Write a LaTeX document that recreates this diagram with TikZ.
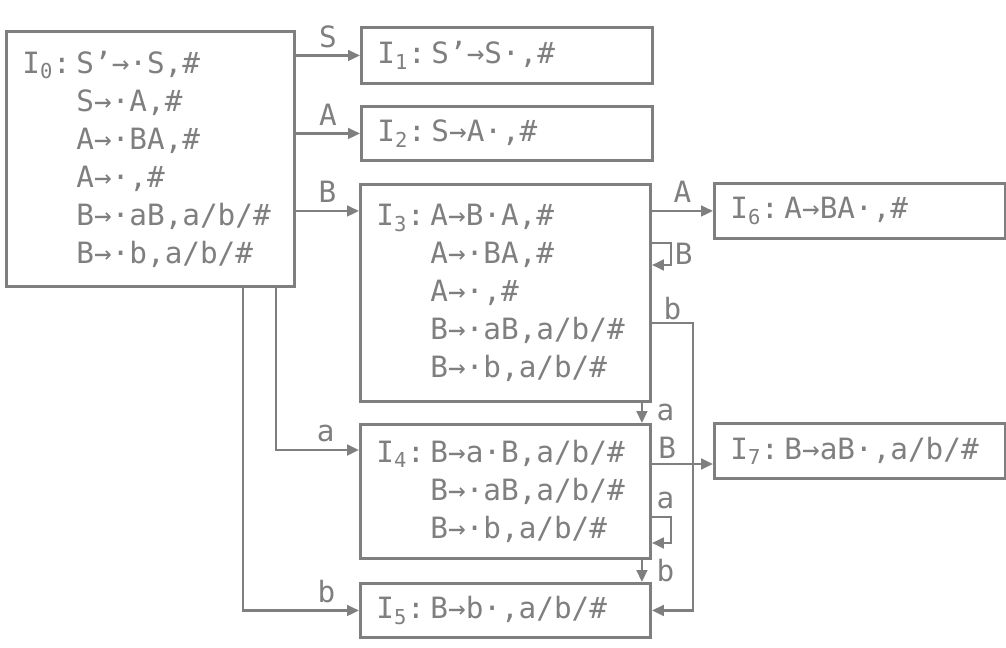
\documentclass[tikz,border=0pt]{standalone}
\usepackage{fontspec}
\newfontfamily\itemfont{DejaVu Sans Mono}
\usetikzlibrary{arrows.meta}
\definecolor{linegray}{RGB}{127,127,127}
\newcommand{\lrstate}[1]{\makebox[40.5pt][l]{I\textsubscript{#1}:}}
\newcommand{\lrind}{\hspace*{40.5pt}}
\begin{document}
\begin{tikzpicture}[x=0.75pt, y=-0.75pt,
    state/.style={draw=linegray, line width=2.2pt, inner xsep=12pt, inner ysep=0pt,
      anchor=north west, align=left, text=linegray,
      font=\itemfont\fontsize{22}{28.5}\selectfont},
    trans/.style={draw=linegray, line width=2pt, -{Triangle[length=9pt,width=8pt]}},
    sym/.style={text=linegray, inner sep=5pt, font=\itemfont\fontsize{22}{24}\selectfont}]
  \useasboundingbox (0,0) rectangle (1006,648);
  % item sets
  \node[state, text width=192pt, minimum height=191.25pt] (i0) at (5,30)
    {\lrstate{0}S’→·S,\#\\ \lrind S→·A,\#\\ \lrind A→·BA,\#\\ \lrind A→·,\#\\
     \lrind B→·aB,a/b/\#\\ \lrind B→·b,a/b/\#};
  \node[state, text width=194.25pt, minimum height=42pt] (i1) at (360,26)
    {\lrstate{1}S’→S·,\#};
  \node[state, text width=194.25pt, minimum height=40.5pt] (i2) at (360,105)
    {\lrstate{2}S→A·,\#};
  \node[state, text width=193.5pt, minimum height=162.75pt] (i3) at (359,183)
    {\lrstate{3}A→B·A,\#\\ \lrind A→·BA,\#\\ \lrind A→·,\#\\
     \lrind B→·aB,a/b/\#\\ \lrind B→·b,a/b/\#};
  \node[state, text width=194.25pt, minimum height=41.25pt] (i6) at (713,182)
    {\lrstate{6}A→BA·,\#};
  \node[state, text width=193.5pt, minimum height=100.5pt] (i4) at (359,423)
    {\lrstate{4}B→a·B,a/b/\#\\ \lrind B→·aB,a/b/\#\\ \lrind B→·b,a/b/\#};
  \node[state, text width=194.25pt, minimum height=41.25pt] (i7) at (713,422)
    {\lrstate{7}B→aB·,a/b/\#};
  \node[state, text width=193.5pt, minimum height=40.5pt] (i5) at (359,582)
    {\lrstate{5}B→b·,a/b/\#};
  % goto from I0
  \draw[trans] (i0.east |- i1.west) -- node[sym, above] {S} (i1.west);
  \draw[trans] (i0.east |- i2.west) -- node[sym, above] {A} (i2.west);
  \draw[trans] (i0.east |- i6.west) -- node[sym, above] {B} (i3.west |- i6.west);
  \draw[trans] ([xshift=-15pt]i0.south east) |- node[sym, above, pos=0.8] {a}
    ([yshift=-20.25pt]i4.north west);
  \draw[trans] ([xshift=-39.75pt]i0.south east) |- node[sym, above, pos=0.86] {b} (i5.west);
  % goto from I3
  \draw[trans] (i3.east |- i6.west) -- node[sym, above] {A} (i6.west);
  \draw[trans] ([yshift=-45pt]i3.north east) -- ++(19,0)
    |- node[sym, right, inner sep=2pt, pos=0.25] {B} ([yshift=-61.5pt]i3.north east);
  \draw[trans] ([yshift=-105pt]i3.north east) -- node[sym, above, inner sep=1pt] {b} ++(41,0)
    |- (i5.east);
  \draw[trans] ([xshift=-7.5pt]i3.south east) -- node[sym, right, xshift=5pt] {a}
    ([xshift=-7.5pt]i4.north east);
  % goto from I4
  \coordinate (i4b) at ([yshift=-30.75pt]i4.north east);
  \draw[trans] (i4b) -- node[sym, above, inner sep=3pt, pos=0.25] {B} (i7.west |- i4b);
  \draw[trans] ([yshift=-70.5pt]i4.north east) -- node[sym, above, xshift=3pt] {a} ++(19,0)
    |- ([yshift=-90pt]i4.north east);
  \draw[trans] ([xshift=-7.5pt]i4.south east) -- node[sym, right, xshift=5pt] {b}
    ([xshift=-7.5pt]i5.north east);
\end{tikzpicture}
\end{document}
